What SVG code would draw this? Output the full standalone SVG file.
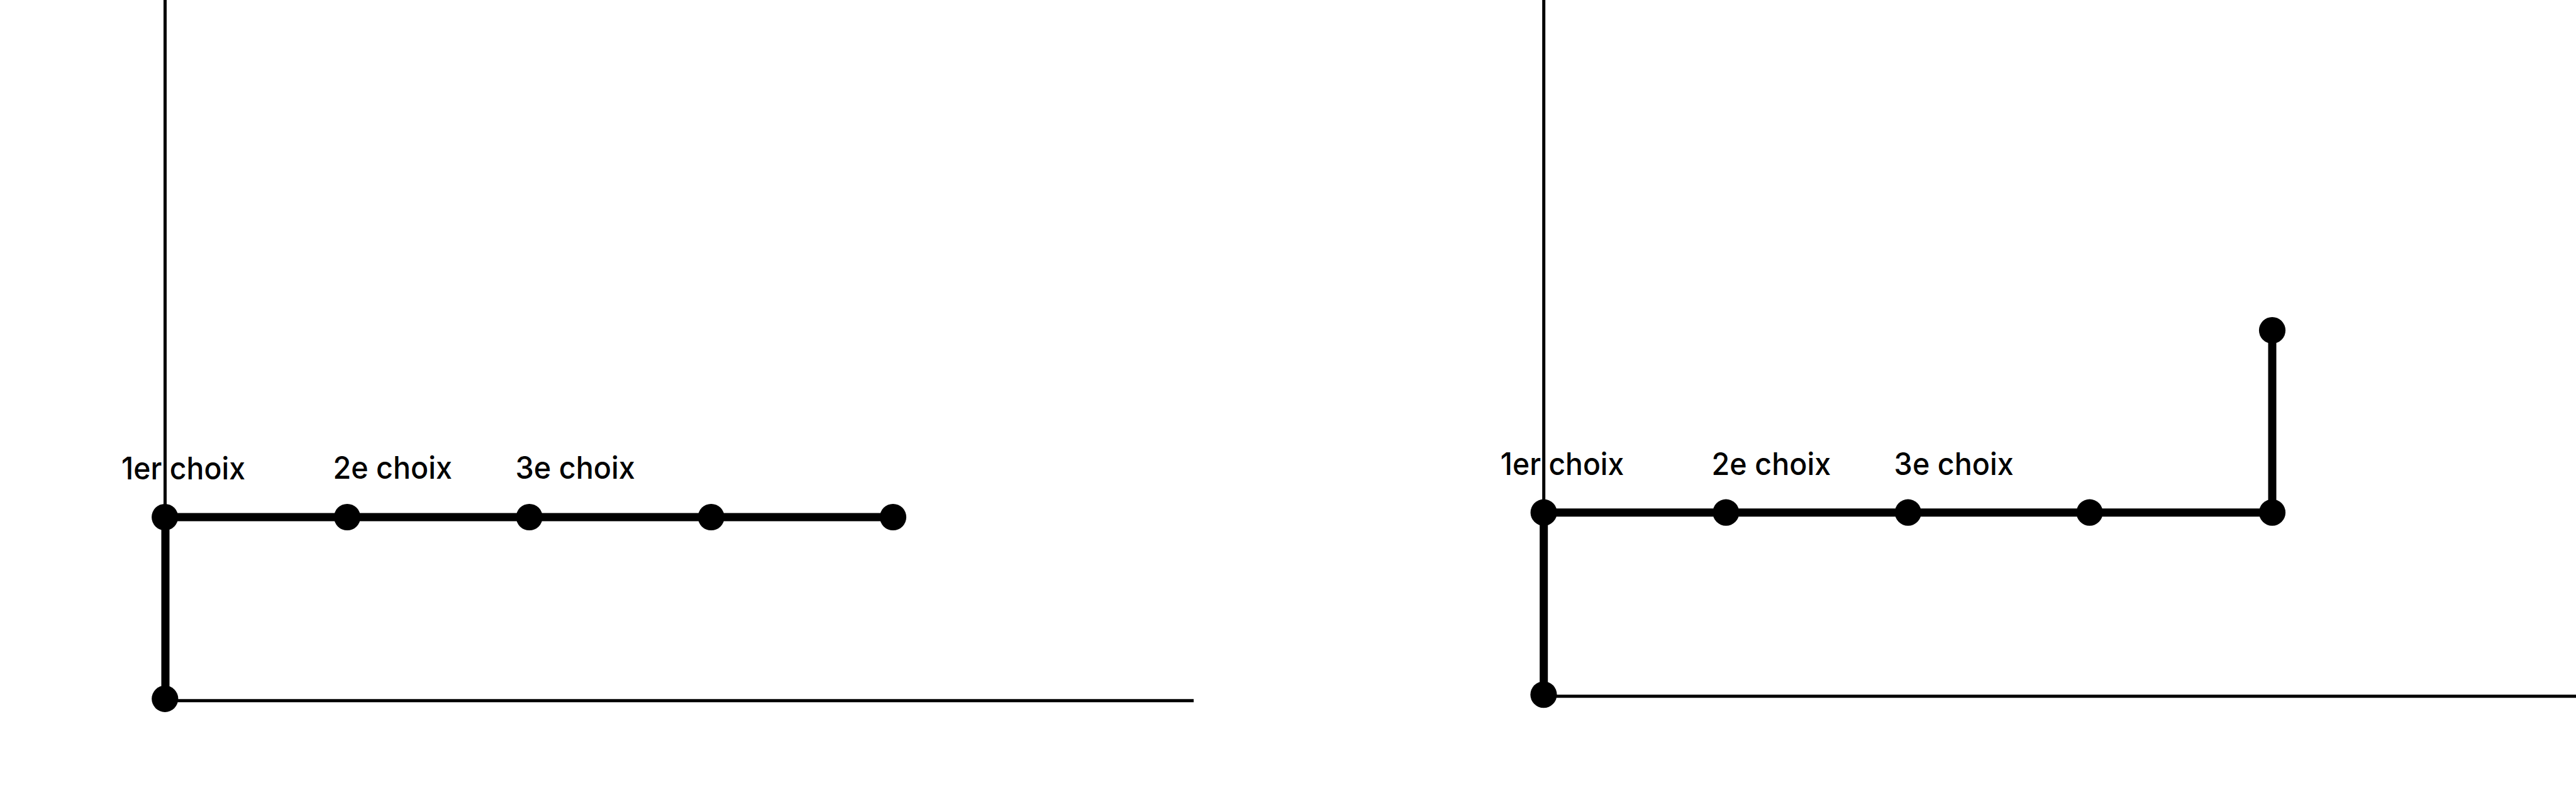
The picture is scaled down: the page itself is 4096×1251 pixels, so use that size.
<svg xmlns="http://www.w3.org/2000/svg" width="4096" height="1251" viewBox="0 0 4096 1251">
<style>
.axis{stroke:#000;stroke-width:5;fill:none}
.edge{stroke:#000;stroke-width:13;fill:none}
.dot{fill:#000}
.lbl{font-family:Inter,"Noto Sans","Liberation Sans",sans-serif;font-size:49px;font-weight:500;fill:#000}
</style>
<rect width="4096" height="1251" fill="#fff"/>
<g id="connectors">
<line class="axis" x1="262.5" y1="0" x2="262.5" y2="822"/>
<line class="axis" x1="262.3" y1="1113.7" x2="1898" y2="1113.7"/>
<line class="edge" x1="263" y1="822" x2="263" y2="1110.8"/>
<line class="edge" x1="262.2" y1="822" x2="1420" y2="822"/>
<line class="axis" x1="2454.7" y1="0" x2="2454.7" y2="814.7"/>
<line class="axis" x1="2454.5" y1="1106.8" x2="4096" y2="1106.8"/>
<line class="edge" x1="2454.7" y1="814.7" x2="2454.7" y2="1104.2"/>
<line class="edge" x1="2454.7" y1="814.7" x2="3613" y2="814.7"/>
<line class="edge" x1="3613" y1="814.7" x2="3613" y2="525.1"/>
</g>
<g id="left-n1"><circle class="dot" cx="262.2" cy="822" r="21.1"/><text class="lbl" x="193.1" y="761.9" textLength="196.9" lengthAdjust="spacingAndGlyphs">1er choix</text></g>
<g id="left-n2"><circle class="dot" cx="552.1" cy="822" r="21.1"/><text class="lbl" x="529.4" y="761.3" textLength="189.6" lengthAdjust="spacingAndGlyphs">2e choix</text></g>
<g id="left-n3"><circle class="dot" cx="841.7" cy="822" r="21.1"/><text class="lbl" x="819.4" y="761.3" textLength="190.5" lengthAdjust="spacingAndGlyphs">3e choix</text></g>
<g id="left-n4"><circle class="dot" cx="1130.8" cy="822" r="21.1"/></g>
<g id="left-n5"><circle class="dot" cx="1420" cy="822" r="21.1"/></g>
<g id="left-origin"><circle class="dot" cx="262.3" cy="1110.8" r="21.1"/></g>
<g id="right-n1"><circle class="dot" cx="2454.7" cy="814.7" r="21.1"/><text class="lbl" x="2385.8" y="755" textLength="196.5" lengthAdjust="spacingAndGlyphs">1er choix</text></g>
<g id="right-n2"><circle class="dot" cx="2744.4" cy="814.7" r="21.1"/><text class="lbl" x="2721.6" y="755" textLength="189.6" lengthAdjust="spacingAndGlyphs">2e choix</text></g>
<g id="right-n3"><circle class="dot" cx="3033.9" cy="814.7" r="21.1"/><text class="lbl" x="3011.6" y="754.5" textLength="190.3" lengthAdjust="spacingAndGlyphs">3e choix</text></g>
<g id="right-n4"><circle class="dot" cx="3322.6" cy="814.7" r="21.1"/></g>
<g id="right-n5"><circle class="dot" cx="3613" cy="814.7" r="21.1"/></g>
<g id="right-n6"><circle class="dot" cx="3613" cy="525.1" r="21.1"/></g>
<g id="right-origin"><circle class="dot" cx="2454.5" cy="1104.2" r="21.1"/></g>
</svg>
